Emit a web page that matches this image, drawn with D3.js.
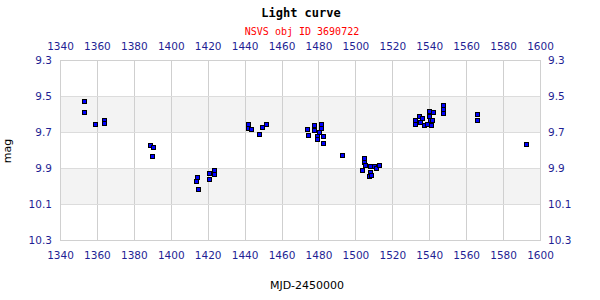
<!DOCTYPE html>
<html>
<head>
<meta charset="utf-8">
<script src="https://cdn.jsdelivr.net/npm/d3@7"></script>
<style>
  body { margin: 0; background: #fff; }
  svg text { font-family: "DejaVu Sans", sans-serif; }
</style>
</head>
<body>
<script>
const mjd = [
  1353.7, 1353.7, 1359.7, 1364.5, 1364.5, 1389.5, 1390.8, 1390.5,
  1414.9, 1414.4, 1415.5, 1421.3, 1421.3, 1424.1, 1424.1,
  1442.5, 1442.5, 1443.8, 1448.5, 1450.1, 1452.3,
  1474.6, 1475.1, 1478.3, 1478.3, 1479.5, 1479.5, 1482.1, 1482.1, 1480.8, 1483.2, 1483.2,
  1493.5,
  1505.2, 1505.4, 1505.6, 1504.3, 1508.3, 1508.3, 1508.1, 1509.2, 1510.5, 1511.5, 1513.5,
  1532.7, 1532.7, 1535.2, 1536.5, 1535.7, 1537.5, 1540.6, 1542.4, 1540.6, 1541.1, 1541.3,
  1539.5, 1542.2, 1548.2, 1548.2, 1548.2,
  1566.6, 1566.4, 1593.1
]
const mag = [
  9.535, 9.596, 9.663, 9.637, 9.657, 9.779, 9.791, 9.841,
  9.954, 9.978, 10.024, 9.931, 9.969, 9.917, 9.939,
  9.661, 9.685, 9.691, 9.717, 9.679, 9.663,
  9.689, 9.722, 9.668, 9.693, 9.728, 9.747, 9.661, 9.683, 9.706, 9.726, 9.767,
  9.835,
  9.850, 9.871, 9.889, 9.917, 9.896, 9.929, 9.952, 9.943, 9.893, 9.907, 9.889,
  9.637, 9.661, 9.615, 9.629, 9.652, 9.665, 9.587, 9.593, 9.618, 9.639, 9.667,
  9.661, 9.639, 9.556, 9.578, 9.602,
  9.607, 9.641, 9.774
]
const xTicks = [1340, 1360, 1380, 1400, 1420, 1440, 1460, 1480, 1500, 1520, 1540, 1560, 1580, 1600]
const yTicks = [9.3, 9.5, 9.7, 9.9, 10.1, 10.3]
const bands = [[9.5, 9.7], [9.9, 10.1]]

const W = 600, H = 300
const m = { left: 60, right: 540, top: 60, bottom: 240 }
const blue = '#1f1f94'

const svg = d3.select('body').append('svg')
  .attr('width', W).attr('height', H)

const x = d3.scaleLinear().domain([1340, 1600]).range([m.left, m.right])
const y = d3.scaleLinear().domain([9.3, 10.3]).range([m.top, m.bottom])

// shaded bands
svg.selectAll('rect.band').data(bands).enter().append('rect')
  .attr('x', m.left).attr('width', m.right - m.left)
  .attr('y', d => y(d[0])).attr('height', d => y(d[1]) - y(d[0]))
  .attr('fill', '#f3f3f3')

// grid
svg.selectAll('line.vg').data(xTicks.slice(1, -1)).enter().append('line')
  .attr('x1', d => Math.round(x(d)) + 0.5).attr('x2', d => Math.round(x(d)) + 0.5)
  .attr('y1', m.top).attr('y2', m.bottom)
  .attr('stroke', '#cfcfcf')
svg.selectAll('line.hg').data(yTicks.slice(1, -1)).enter().append('line')
  .attr('y1', d => Math.round(y(d)) + 0.5).attr('y2', d => Math.round(y(d)) + 0.5)
  .attr('x1', m.left).attr('x2', m.right)
  .attr('stroke', '#dcdcdc')
svg.append('rect')
  .attr('x', m.left + 0.5).attr('y', m.top + 0.5)
  .attr('width', m.right - m.left).attr('height', m.bottom - m.top)
  .attr('fill', 'none').attr('stroke', '#d0d0d0')

// axes, labels only
const fmtY = d3.format('.1f')
const style = g => {
  g.select('.domain').remove()
  g.selectAll('text').attr('fill', blue).style('font-size', '10.5px')
}
svg.append('g').attr('transform', `translate(0,${m.top - 7})`)
  .call(d3.axisTop(x).tickValues(xTicks).tickSize(0).tickFormat(d3.format('d'))).call(style)
svg.append('g').attr('transform', `translate(0,${m.bottom + 9})`)
  .call(d3.axisBottom(x).tickValues(xTicks).tickSize(0).tickFormat(d3.format('d'))).call(style)
svg.append('g').attr('transform', `translate(${m.left - 5},0)`)
  .call(d3.axisLeft(y).tickValues(yTicks).tickSize(0).tickFormat(fmtY)).call(style)
svg.append('g').attr('transform', `translate(${m.right + 5},0)`)
  .call(d3.axisRight(y).tickValues(yTicks).tickSize(0).tickFormat(fmtY)).call(style)

// points
svg.selectAll('rect.pt').data(mjd).enter().append('rect')
  .attr('x', d => Math.round(x(d)) - 2.5)
  .attr('y', (d, i) => Math.round(y(mag[i])) - 2.5)
  .attr('width', 4).attr('height', 4)
  .attr('fill', '#0000ff').attr('stroke', '#000').attr('stroke-width', 1)

// titles
svg.append('text').attr('x', 301).attr('y', 17).attr('text-anchor', 'middle')
  .style('font-family', '"DejaVu Sans Mono", monospace').style('font-weight', 'bold')
  .style('font-size', '12px').text('Light curve')
svg.append('text').attr('x', 302).attr('y', 35).attr('text-anchor', 'middle')
  .style('font-family', '"DejaVu Sans Mono", monospace').attr('fill', '#ff0000')
  .style('font-size', '10px').text('NSVS obj ID 3690722')
svg.append('text').attr('transform', 'translate(11,151) rotate(-90)').attr('text-anchor', 'middle')
  .style('font-size', '11px').text('mag')
svg.append('text').attr('x', 307).attr('y', 289).attr('text-anchor', 'middle')
  .style('font-size', '11px').text('MJD-2450000')
</script>
</body>
</html>
